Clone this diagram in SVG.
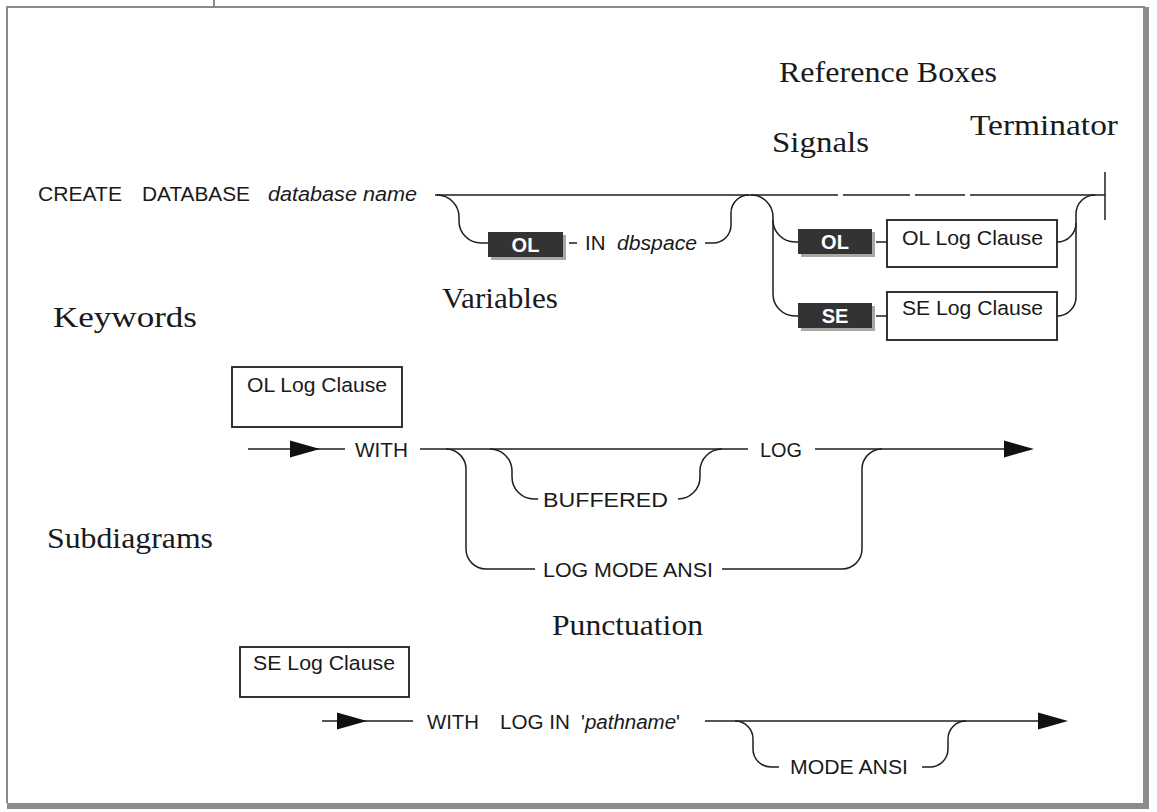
<svg xmlns="http://www.w3.org/2000/svg" width="1157" height="812" viewBox="0 0 1157 812">
<style>
.ln{fill:none;stroke:#1e1e1e;stroke-width:1.5}
.kw{font-family:"Liberation Sans",Arial,sans-serif;font-size:20.5px;fill:#1a1a1a}
.it{font-style:italic}
.lbl{font-family:"Liberation Serif","Times New Roman",serif;font-size:30px;fill:#1a1a1a}
.sig{fill:#333}
.sigsh{fill:#a8a8a8}
.sigt{font-family:"Liberation Sans",Arial,sans-serif;font-size:20px;font-weight:bold;fill:#fff;text-anchor:middle}
.ref{fill:#fff;stroke:#1e1e1e;stroke-width:1.8}
.frame{fill:none;stroke:#8a8a8a;stroke-width:2}
.frameb{fill:#8c8c8c}
.ah{fill:#111}
</style>
<defs>
<path id="ah" d="M0,-8.5 L30,0 L0,8.5 Z"/>
</defs>

<g id="frame">
<path class="frame" d="M7,803 V7 H1145"/>
<path class="frame" d="M214,0 V7"/>
<rect class="frameb" x="1143" y="7" width="6" height="802"/>
<rect class="frameb" x="7" y="803" width="1142" height="6"/>
</g>

<g id="connectors">
<path class="ln" d="M435,195 H838 M843,195 H910 M915,195 H965 M970,195 H1105"/>
<path class="ln" d="M1105,172 V220"/>
<path class="ln" d="M437,195 A22,22 0 0 1 459,217 L459,221 A22,22 0 0 0 481,243 H488"/>
<path class="ln" d="M569,243 H577"/>
<path class="ln" d="M705,243 H713 A18,18 0 0 0 731,225 L731,213 A18,18 0 0 1 749,195"/>
<path class="ln" d="M751,195 A22,22 0 0 1 773,217 L773,294 A22,22 0 0 0 795,316 H798"/>
<path class="ln" d="M773,220 A22,22 0 0 0 795,242 H798"/>
<path class="ln" d="M876,242 H887 M876,316 H887"/>
<path class="ln" d="M1057,242 A19,19 0 0 0 1076,223 L1076,214 A19,19 0 0 1 1095,195"/>
<path class="ln" d="M1057,316 A19,19 0 0 0 1076,297 L1076,223"/>
<path class="ln" d="M248,449 H345"/>
<use href="#ah" class="ah" x="290" y="449"/>
<path class="ln" d="M420,449 H748 M815,449 H1008"/>
<use href="#ah" class="ah" x="1004" y="449"/>
<path class="ln" d="M490,449 A22,22 0 0 1 512,471 L512,477 A22,22 0 0 0 534,499 H538"/>
<path class="ln" d="M678,499 A22,22 0 0 0 700,477 L700,471 A22,22 0 0 1 722,449"/>
<path class="ln" d="M446,449 A20,20 0 0 1 466,469 L466,549 A20,20 0 0 0 486,569 H535"/>
<path class="ln" d="M722,569 H842 A20,20 0 0 0 862,549 L862,469 A20,20 0 0 1 882,449"/>
<path class="ln" d="M322,721 H413"/>
<use href="#ah" class="ah" x="337" y="721"/>
<path class="ln" d="M705,721 H1040"/>
<use href="#ah" class="ah" x="1038" y="721"/>
<path class="ln" d="M735,721 A18,18 0 0 1 753,739 L753,749 A18,18 0 0 0 771,767 H779"/>
<path class="ln" d="M922,767 H930 A18,18 0 0 0 948,749 L948,739 A18,18 0 0 1 966,721"/>
</g>

<g id="create-stmt">
<text class="kw" x="38" y="201" textLength="84" lengthAdjust="spacingAndGlyphs">CREATE</text>
<text class="kw" x="142" y="201" textLength="108" lengthAdjust="spacingAndGlyphs">DATABASE</text>
<text class="kw it" x="268" y="201" textLength="149" lengthAdjust="spacingAndGlyphs">database name</text>
</g>

<g id="sig-ol-1">
<rect class="sigsh" x="491" y="235" width="75" height="25"/>
<rect class="sig" x="488" y="232" width="75" height="25"/>
<text class="sigt" x="525.5" y="252">OL</text>
</g>
<g id="in-dbspace">
<text class="kw" x="585" y="250">IN</text>
<text class="kw it" x="617" y="250" textLength="80" lengthAdjust="spacingAndGlyphs">dbspace</text>
</g>

<g id="sig-ol-2">
<rect class="sigsh" x="801" y="232" width="74" height="25"/>
<rect class="sig" x="798" y="229" width="74" height="25"/>
<text class="sigt" x="835" y="249">OL</text>
</g>
<g id="sig-se">
<rect class="sigsh" x="801" y="306" width="74" height="25"/>
<rect class="sig" x="798" y="303" width="74" height="25"/>
<text class="sigt" x="835" y="323">SE</text>
</g>
<g id="ref-ol">
<rect class="ref" x="887" y="220" width="170" height="47"/>
<text class="kw" x="902" y="245" textLength="141" lengthAdjust="spacingAndGlyphs">OL Log Clause</text>
</g>
<g id="ref-se">
<rect class="ref" x="887" y="292" width="170" height="48"/>
<text class="kw" x="902" y="315" textLength="141" lengthAdjust="spacingAndGlyphs">SE Log Clause</text>
</g>

<g id="labels">
<text class="lbl" x="779" y="82" font-size="28" textLength="218" lengthAdjust="spacingAndGlyphs">Reference Boxes</text>
<text class="lbl" x="970" y="135" font-size="28" textLength="148" lengthAdjust="spacingAndGlyphs">Terminator</text>
<text class="lbl" x="772" y="152" textLength="97" lengthAdjust="spacingAndGlyphs">Signals</text>
<text class="lbl" x="442" y="308" textLength="116" lengthAdjust="spacingAndGlyphs">Variables</text>
<text class="lbl" x="53" y="327" textLength="144" lengthAdjust="spacingAndGlyphs">Keywords</text>
<text class="lbl" x="47" y="548" textLength="166" lengthAdjust="spacingAndGlyphs">Subdiagrams</text>
<text class="lbl" x="552" y="635" textLength="151" lengthAdjust="spacingAndGlyphs">Punctuation</text>
</g>

<g id="ol-clause">
<rect class="ref" x="232" y="367" width="170" height="60"/>
<text class="kw" x="247" y="392" textLength="140" lengthAdjust="spacingAndGlyphs">OL Log Clause</text>
<text class="kw" x="355" y="457" textLength="53" lengthAdjust="spacingAndGlyphs">WITH</text>
<text class="kw" x="760" y="457" textLength="42" lengthAdjust="spacingAndGlyphs">LOG</text>
<text class="kw" x="543" y="507" textLength="125" lengthAdjust="spacingAndGlyphs">BUFFERED</text>
<text class="kw" x="543" y="577" textLength="170" lengthAdjust="spacingAndGlyphs">LOG MODE ANSI</text>
</g>

<g id="se-clause">
<rect class="ref" x="240" y="647" width="169" height="50"/>
<text class="kw" x="253" y="670" textLength="142" lengthAdjust="spacingAndGlyphs">SE Log Clause</text>
<text class="kw" x="427" y="729" textLength="52" lengthAdjust="spacingAndGlyphs">WITH</text>
<text class="kw" x="500" y="729" textLength="70" lengthAdjust="spacingAndGlyphs">LOG IN</text>
<text class="kw" x="581" y="729">'<tspan class="it">pathname</tspan>'</text>
<text class="kw" x="790" y="774" textLength="118" lengthAdjust="spacingAndGlyphs">MODE ANSI</text>
</g>
</svg>
